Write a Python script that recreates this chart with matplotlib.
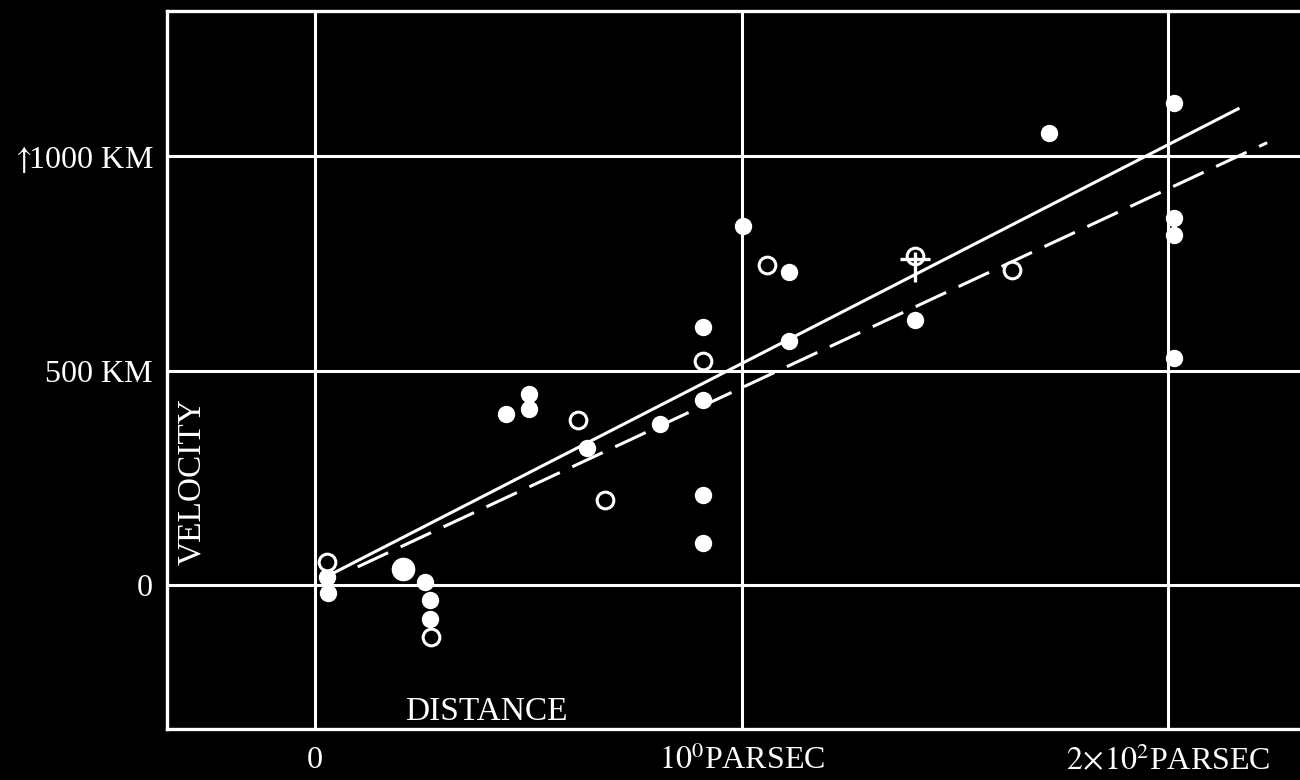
import matplotlib.pyplot as plt
from matplotlib.path import Path

plt.rcParams['font.family'] = ['Liberation Serif', 'DejaVu Serif']
plt.rcParams['mathtext.fontset'] = 'stix'

# distance in units of 10^6 parsec, velocity in km/s
filled_x = [0.028, 0.030, 0.258, 0.270, 0.270, 0.448, 0.502, 0.502, 0.638, 0.809,
            1.004, 1.111, 0.910, 1.111, 0.910, 0.910, 0.910, 1.407, 1.721,
            2.014, 2.014, 2.014, 2.014]
filled_y = [19, -19, 7, -35, -79, 400, 447, 410, 321, 377,
            838, 731, 603, 570, 431, 210, 98, 619, 1055,
            1125, 857, 817, 531]

big_x = [0.206]
big_y = [37]

open_x = [0.028, 0.272, 0.617, 0.680, 1.060, 0.910, 1.407, 1.634]
open_y = [54, -121, 386, 200, 747, 522, 768, 736]

cross_x = [1.407]
cross_y = [743]

solid_x = [0.042, 2.164]
solid_y = [28, 1111]
dashed_x = [0.10, 2.232]
dashed_y = [43, 1032]

xticks = [0, 1, 2]
xticklabels = ['0', r'$10^0$PARSEC', r'$2\!\times\!10^2$PARSEC']
yticks = [0, 500, 1000]
yticklabels = ['0', '500 KM', r'$\uparrow\!\!$1000 KM']

fig = plt.figure(figsize=(13, 7.8), dpi=100, facecolor='black')
ax = fig.add_axes([167 / 1300, 1 - 729 / 780, 1 - 167 / 1300, (729 - 11) / 780])
ax.set_facecolor('black')

ax.set_xlim(-0.347, 2.309)
ax.set_ylim(-335, 1339)

for s in ['left', 'top', 'bottom']:
    ax.spines[s].set_color('white')
    ax.spines[s].set_linewidth(2.4)
ax.spines['right'].set_visible(False)

ax.set_xticks(xticks)
ax.set_xticklabels(xticklabels)
ax.set_yticks(yticks)
ax.set_yticklabels(yticklabels)
ax.tick_params(length=0, colors='white', labelsize=23)
ax.tick_params(axis='x', pad=12)
ax.tick_params(axis='y', pad=10)
ax.grid(True, color='white', lw=2.2)
ax.set_axisbelow(True)

ax.plot(solid_x, solid_y, color='white', lw=2.2, zorder=3)
ax.plot(dashed_x, dashed_y, color='white', lw=2.2, dashes=(11, 4.5), zorder=3)

ax.plot(filled_x, filled_y, 'o', color='white', ms=11.5, zorder=4)
ax.plot(big_x, big_y, 'o', color='white', ms=16, zorder=4)
ax.plot(open_x, open_y, 'o', mfc='black', mec='white', mew=2.2, ms=12, zorder=4)

cross = Path([(-1, 0.55), (1, 0.55), (0, 1), (0, -1)],
             [Path.MOVETO, Path.LINETO, Path.MOVETO, Path.LINETO])
ax.plot(cross_x, cross_y, marker=cross, ls='none', mec='white', mew=2.4, ms=22, zorder=5)

ax.text(0.022, 0.344, 'VELOCITY', transform=ax.transAxes, rotation=90,
        color='white', fontsize=24, ha='center', va='center')
ax.text(0.282, 0.024, 'DISTANCE', transform=ax.transAxes,
        color='white', fontsize=24, ha='center', va='center')

plt.savefig('out.png', dpi=100, facecolor='black')
